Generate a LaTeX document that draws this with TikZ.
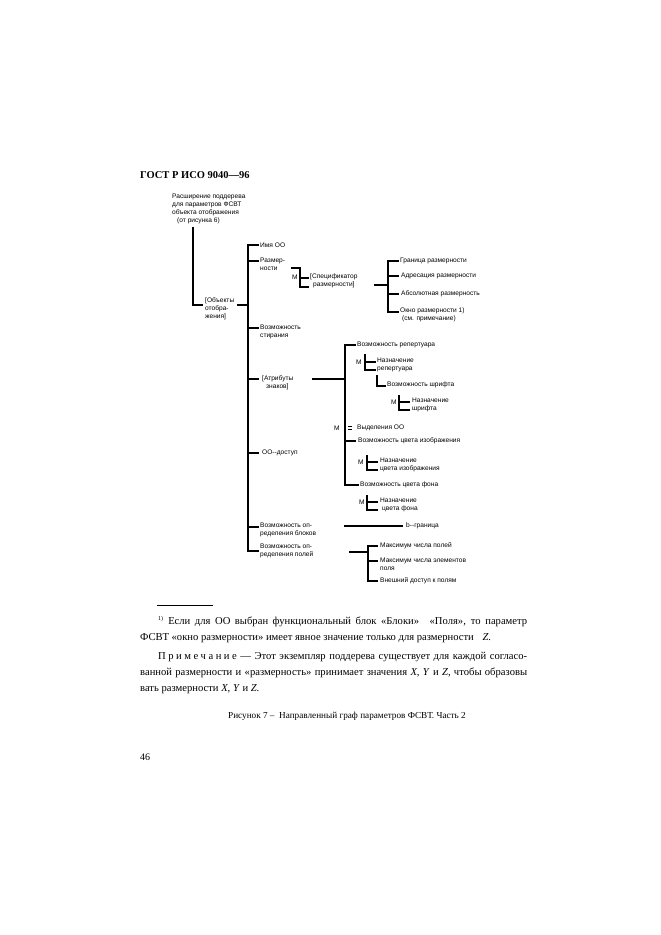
\documentclass[tikz,border=0pt]{standalone}
\usepackage{fontspec}
\setmainfont{Liberation Serif}
\newfontfamily\labfont{Liberation Sans}
\begin{document}
\begin{tikzpicture}[x=1pt,y=-1pt,
  lbl/.style={font=\labfont\fontsize{6.6}{8}\selectfont, inner sep=0pt, anchor=west, align=left},
  lbl2/.style={lbl, anchor=north west},
  ln/.style={line width=1.2pt, line cap=rect},
  body/.style={font=\fontsize{10.6}{12}\selectfont, inner sep=0pt, anchor=west}]
\useasboundingbox[fill=white] (0,0) rectangle (661,935);

% header
\node[font=\bfseries\fontsize{10.5}{12}\selectfont, inner sep=0pt, anchor=west] (hdr) at (140,175) {ГОСТ Р ИСО 9040—96};

% root
\node[lbl2] (root) at (172,193.5) {Расширение поддерева\\для параметров ФСВТ\\объекта отображения\\\hspace*{5pt}(от рисунка 6)};
\coordinate (r0) at (193,228);
\coordinate (r1) at (193,305);
\coordinate (r2) at (202,305);
\draw[ln] (r0) -- (r1) -- (r2);

\node[lbl2] (obj) at (205,297.5) {[Объекты\\отобра-\\жения]};
\coordinate (o1) at (238,305);
\coordinate (T0) at (248,305);
\draw[ln] (o1) -- (T0);

% trunk
\coordinate (Ttop) at (248,245);
\coordinate (Tbot) at (248,551);
\draw[ln] (258,245) -- (Ttop) -- (Tbot) -- (258,551);
\foreach \yy in {261,328,379,453,527} \draw[ln] (248,\yy) -- (258,\yy);

\node[lbl] (imya) at (260,245) {Имя ОО};
\node[lbl2] (razm) at (260,257.5) {Размер-\\ности};
\node[lbl2] (stir) at (260,324.5) {Возможность\\стирания};
\node[lbl2] (attr) at (262,375.5) {[Атрибуты\\\hspace*{4pt}знаков]};
\node[lbl] (dost) at (262,453) {ОО--доступ};
\node[lbl2] (blok) at (260,522.5) {Возможность оп-\\ределения блоков};
\node[lbl2] (pol) at (260,543.5) {Возможность оп-\\ределения полей};

% Размерности bracket
\node[lbl] (m1) at (292,277.5) {М};
\coordinate (s0) at (292,268);
\coordinate (s1) at (300,268);
\coordinate (s2) at (300,287);
\draw[ln] (s0) -- (s1) -- (s2) -- (308,287);
\draw[ln] (300,278) -- (308,278);
\node[lbl2] (spec) at (310,274) {[Спецификатор\\\hspace*{3pt}размерности]};

% right bracket
\coordinate (g0) at (375,285);
\coordinate (g1) at (388,285);
\draw[ln] (g0) -- (g1);
\draw[ln] (398,261) -- (388,261) -- (388,312) -- (398,312);
\draw[ln] (388,276) -- (398,276);
\draw[ln] (388,294) -- (398,294);
\node[lbl] (gr) at (400,261) {Граница размерности};
\node[lbl] (adr) at (401,276) {Адресация размерности};
\node[lbl] (abs) at (401,294) {Абсолютная размерность};
\node[lbl2] (okno) at (400,307.5) {Окно размерности 1)\\\hspace*{2pt}(см. примечание)};

% attributes bracket
\coordinate (a0) at (313,379);
\coordinate (a1) at (345,379);
\draw[ln] (a0) -- (a1);
\draw[ln] (355,345) -- (345,345) -- (345,485) -- (358,485);
\draw[ln] (345,441) -- (355,441);
\draw[line width=0.8pt] (347.5,426.5) -- (352,426.5) (347.5,429.5) -- (352,429.5);
\node[lbl] (m3) at (334,428) {М};
\node[lbl] (vyd) at (357,428) {Выделения ОО};
\node[lbl] (vrep) at (357,345) {Возможность репертуара};
\node[lbl] (vciz) at (358,441) {Возможность цвета изображения};
\node[lbl] (vcf) at (360,485) {Возможность цвета фона};

% Назначение репертуара
\node[lbl] (m2) at (356,362) {М};
\draw[ln] (375,362) -- (365,362);
\draw[ln] (365,355) -- (365,370) -- (375,370);
\node[lbl2] (nrep) at (377,357.5) {Назначение\\репертуара};

% Возможность шрифта
\draw[ln] (377,376) -- (377,386) -- (385,386);
\node[lbl] (vshr) at (387,385) {Возможность шрифта};

% Назначение шрифта
\node[lbl] (m4) at (391,402) {М};
\draw[ln] (409,402) -- (399,402);
\draw[ln] (399,396) -- (399,410) -- (409,410);
\node[lbl2] (nshr) at (412,397.5) {Назначение\\шрифта};

% Назначение цвета изображения
\node[lbl] (m5) at (358,462) {М};
\draw[ln] (377,462) -- (367,462);
\draw[ln] (367,456) -- (367,470) -- (377,470);
\node[lbl2] (nciz) at (380,457.5) {Назначение\\цвета изображения};

% Назначение цвета фона
\node[lbl] (m6) at (359,502) {М};
\draw[ln] (377,502) -- (367,502);
\draw[ln] (367,496) -- (367,510) -- (377,510);
\node[lbl2] (ncf) at (380,497.5) {Назначение\\\hspace*{2pt}цвета фона};

% b-граница
\coordinate (b0) at (345,526);
\coordinate (b1) at (402,526);
\draw[ln] (b0) -- (b1);
\node[lbl] (bgr) at (406,526) {b--граница};

% поля bracket
\coordinate (p0) at (350,552);
\coordinate (p1) at (368,552);
\draw[ln] (p0) -- (p1);
\draw[ln] (377,546) -- (368,546) -- (368,581) -- (377,581);
\draw[ln] (368,561) -- (377,561);
\node[lbl] (mp) at (380,546) {Максимум числа полей};
\node[lbl2] (me) at (380,557.5) {Максимум числа элементов\\поля};
\node[lbl] (vd) at (380,581) {Внешний доступ к полям};

% footnote
\coordinate (f0) at (157,605);
\coordinate (f1) at (213,605);
\draw[line width=0.7pt] (f0) -- (f1);
\node[body] (fn1) at (158,622) {\makebox[369pt][s]{\textsuperscript{\fontsize{6}{6}\selectfont 1)} Если для ОО выбран функциональный блок «Блоки»\hspace{6pt} «Поля», то параметр}};
\node[body] (fn2) at (140,638) {ФСВТ «окно размерности» имеет явное значение только для размерности\hspace{6pt} \textit{Z}.};
\node[body] (fn3) at (158,657) {\makebox[369pt][s]{П\kern2.5pt р\kern2.5pt и\kern2.5pt м\kern2.5pt е\kern2.5pt ч\kern2.5pt а\kern2.5pt н\kern2.5pt и\kern2.5pt е — Этот экземпляр поддерева существует для каждой согласо-}};
\node[body] (fn4) at (140,673) {\makebox[387pt][s]{ванной размерности и «размерность» принимает значения \textit{X}, \textit{Y} и \textit{Z}, чтобы образовы}};
\node[body] (fn5) at (140,689) {вать размерности \textit{X}, \textit{Y} и \textit{Z}.};

\node[font=\fontsize{9.2}{11}\selectfont, inner sep=0pt] (cap) at (347,716) {Рисунок 7 -- \ Направленный граф параметров ФСВТ. Часть 2};
\node[font=\fontsize{10}{12}\selectfont, inner sep=0pt, anchor=west] (pg) at (140,757) {46};
\end{tikzpicture}
\end{document}
